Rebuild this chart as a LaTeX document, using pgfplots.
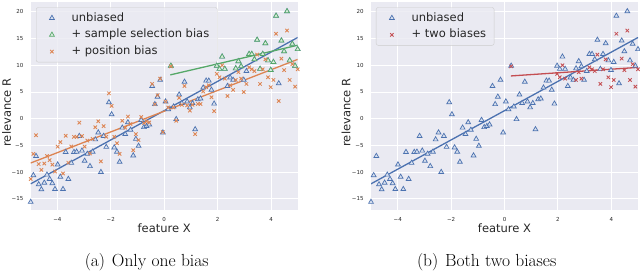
\documentclass[border=0pt]{standalone}
\usepackage{pgfplots}
\pgfplotsset{compat=1.18}
\usepackage{pgfplotstable}
\usepackage{fontspec}
\newfontfamily\dv{DejaVu Sans}
\definecolor{bgc}{HTML}{EAEAF2}
\definecolor{cb}{HTML}{4C72B0}
\definecolor{co}{HTML}{DD8452}
\definecolor{cg}{HTML}{55A868}
\definecolor{cr}{HTML}{C44E52}
\definecolor{tx}{HTML}{262626}

\pgfplotstableread{
x u p
-5.00 -15.6 -11.3
-4.90 -10.6 -6.6
-4.80 -7.0 -3.1
-4.70 -12.3 -8.5
-4.60 -13.25 -9.6
-4.49 -12.0 -8.4
-4.39 -10.5 -7.0
-4.29 -11.3 -7.75
-4.19 -12.1 -8.6
-4.09 -13.2 -9.9
-3.99 -8.6 -5.25
-3.89 -10.9 -4.4
-3.79 -13.2 -10.25
-3.69 -6.25 -3.2
-3.59 -11.3 -8.25
-3.48 -8.3 -5.2
-3.38 -6.25 -3.4
-3.28 -6.2 -3.4
-3.18 -3.25 -0.75
-3.08 -6.0 -3.25
-2.98 -7.9 -5.25
-2.88 -6.6 -4.1
-2.78 -8.9 -6.5
-2.68 -6.2 -3.8
-2.58 -3.9 -1.6
-2.47 -2.6 -0.5
-2.37 -10.0 -8.0
-2.27 -3.25 -1.4
-2.17 -5.3 -3.4
-2.07 3.06 4.75
-1.97 0.8 2.4
-1.87 -5.4 -3.4
-1.77 -6.2 -4.6
-1.67 -8.1 -6.6
-1.57 -1.7 -0.4
-1.46 -2.9 -1.7
-1.36 -0.7 0.4
-1.26 -2.1 -1.0
-1.16 -6.9 -5.9
-1.06 -3.8 -2.9
-0.96 -5.1 -4.0
-0.86 -0.25 0.3
-0.76 -1.6 -0.8
-0.66 -1.4 -0.5
-0.56 -1.1 -0.7
-0.45 6.1 6.5
-0.35 2.7 2.7
-0.25 4.1 4.4
-0.15 7.25 7.5
-0.05 -2.6 -2.5
0.05 3.2 3.2
0.15 1.75 2.1
0.25 9.9 9.8
0.35 2.25 2.1
0.45 -0.1 -0.4
0.56 4.5 3.9
0.66 2.9 2.6
0.76 6.9 6.1
0.86 3.2 2.5
0.96 2.1 1.5
1.06 2.9 2.6
1.16 -2.0 -2.9
1.26 3.6 2.75
1.36 3.75 2.75
1.46 5.8 5.1
1.57 7.1 5.9
1.67 7.1 6.25
1.77 5.4 4.0
1.87 2.8 1.4
1.97 9.9 8.4
2.07 9.3 7.75
2.17 11.6 10.0
2.27 9.3 7.5
2.37 6.1 4.25
2.47 7.7 6.25
2.58 7.25 5.4
2.68 9.4 7.25
2.78 10.75 8.7
2.88 9.8 7.5
2.98 7.25 5.0
3.08 8.9 6.5
3.18 12.1 9.6
3.28 12.1 9.25
3.38 11.1 8.9
3.48 14.75 12.0
3.59 9.3 6.5
3.69 12.1 9.25
3.79 14.1 11.1
3.89 10.9 7.75
3.99 9.1 5.9
4.09 10.6 7.25
4.19 19.25 15.9
4.29 6.6 3.3
4.39 14.6 11.25
4.49 12.6 9.1
4.60 20.1 16.5
4.70 10.9 7.25
4.80 14.0 10.2
4.90 9.9 6.0
5.00 13.0 9.25
}\alldata

\pgfplotstableread{
x u p
0.25 9.9 9.8
1.97 9.9 8.4
2.07 9.3 7.75
2.17 11.6 10.0
2.27 9.3 7.5
2.68 9.4 7.25
2.78 10.75 8.7
2.88 9.8 7.5
3.18 12.1 9.6
3.28 12.1 9.25
3.38 11.1 8.9
3.48 14.75 12.0
3.59 9.3 6.5
3.69 12.1 9.25
3.79 14.1 11.1
3.89 10.9 7.75
3.99 9.1 5.9
4.09 10.6 7.25
4.19 19.25 15.9
4.39 14.6 11.25
4.49 12.6 9.1
4.60 20.1 16.5
4.70 10.9 7.25
4.80 14.0 10.2
4.90 9.9 6.0
5.00 13.0 9.25
}\seldata

\pgfplotsset{
  sb/.style={
    scale only axis, width=267pt, height=208.3pt,
    anchor=south west,
    xmin=-5, xmax=5, ymin=-17.1, ymax=21.9,
    axis background/.style={fill=bgc},
    axis line style={draw=none},
    major tick length=0pt,
    grid=major, major grid style={white, line width=0.9pt},
    xtick={-4,-2,0,2,4}, xticklabels={−4,−2,0,2,4},
    ytick={-15,-10,-5,0,5,10,15,20},
    yticklabels={−15,−10,−5,0,5,10,15,20},
    tick label style={font=\dv\fontsize{5.5}{6}\selectfont, text=tx},
    xticklabel style={yshift=-3.9pt},
    yticklabel style={xshift=-3.9pt},
    xlabel={feature X}, ylabel={relevance R},
    every axis x label/.style={at={(axis description cs:0.5,-0.0864)}, anchor=center,
      font=\dv\fontsize{11.5}{13}\selectfont, text=tx},
    legend cell align=left,
    legend image code/.code={%
      \path (0pt,0pt) (17pt,0pt);
      \draw[##1] plot coordinates {(8.5pt,0pt)};},
    legend style={anchor=north west, fill=bgc, fill opacity=0.8, text opacity=1,
      draw=black!20, rounded corners=2pt,
      font=\dv\fontsize{11.5}{13}\selectfont, text=tx,
      inner xsep=7pt, inner ysep=4pt, row sep=3.8pt, column sep=10pt,
      nodes={inner sep=1pt, text height=8.5pt, text depth=2.5pt}},
  },
  tri/.style={only marks, mark=triangle*, mark size=2.8pt,
    mark options={draw=#1, fill=#1!22!white, line width=0.7pt}},
  crs/.style={only marks, mark=x, mark size=2.4pt,
    mark options={draw=#1, line width=0.85pt}},
}

\begin{document}
\begin{tikzpicture}
\path[use as bounding box] (0,0) rectangle (640pt,273pt);

\begin{axis}[sb, at={(30.7pt,63pt)},
  every axis y label/.style={at={(axis description cs:-0.0899,0.468)}, rotate=90, anchor=center,
    font=\dv\fontsize{11.5}{13}\selectfont, text=tx},
  legend style={at={(0.02,0.973)}}]
\addplot[tri=cb] table[x=x,y=u] {\alldata};
\addlegendentry{unbiased}
\addplot[tri=cg] table[x=x,y=u] {\seldata};
\addlegendentry{+ sample selection bias}
\addplot[crs=co] table[x=x,y=p] {\alldata};
\addlegendentry{+ position bias}
\addplot[cb, line width=1.3pt, forget plot] coordinates {(-5,-12.2) (5,15.2)};
\addplot[co, line width=1.3pt, forget plot] coordinates {(-5,-8.3) (5,11.1)};
\addplot[cg, line width=1.3pt, forget plot] coordinates {(0.23,8.2) (5,13.75)};
\end{axis}

\begin{axis}[sb, at={(371pt,63pt)},
  every axis y label/.style={at={(axis description cs:-0.0936,0.468)}, rotate=90, anchor=center,
    font=\dv\fontsize{11.5}{13}\selectfont, text=tx},
  legend style={at={(0.0187,0.973)}}]
\addplot[tri=cb] table[x=x,y=u] {\alldata};
\addlegendentry{unbiased}
\addplot[crs=cr] table[x=x,y=p] {\seldata};
\addlegendentry{+ two biases}
\addplot[cb, line width=1.3pt, forget plot] coordinates {(-5,-12.2) (5,15.2)};
\addplot[cr, line width=1.3pt, forget plot] coordinates {(0.24,8.0) (5,9.6)};
\end{axis}

\node[anchor=base, font=\fontsize{17.5}{20}\selectfont] at (146.7pt,6.7pt) {(a)\hspace{1.5pt} Only one bias};
\node[anchor=base, font=\fontsize{17.5}{20}\selectfont] at (486.7pt,6.7pt) {(b)\hspace{1.5pt} Both two biases};
\end{tikzpicture}
\end{document}
